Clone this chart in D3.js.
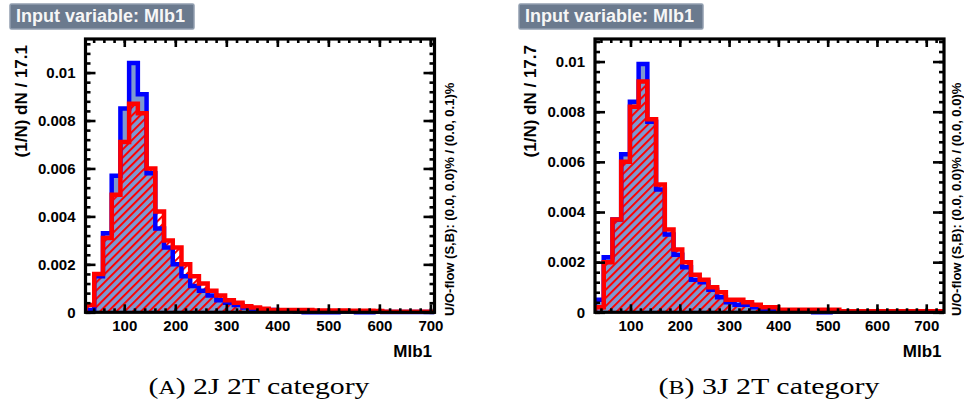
<!DOCTYPE html>
<html>
<head>
<meta charset="utf-8">
<script src="https://cdn.jsdelivr.net/npm/d3@7"></script>
<style>
  html, body { margin: 0; padding: 0; background: #ffffff; }
  svg { display: block; }
</style>
</head>
<body>
<svg id="chart" width="964" height="405"></svg>
<script>
// ---------------- data ----------------
const panelTitles = ["Input variable: Mlb1", "Input variable: Mlb1"];
const captionLetters = ["A", "B"];
const captionTexts = [" 2J 2T category", " 3J 2T category"];
const yTitles = ["(1/N) dN / 17.1", "(1/N) dN / 17.7"];
const flowTexts = ["U/O-flow (S,B): (0.0, 0.0)% / (0.0, 0.1)%",
                   "U/O-flow (S,B): (0.0, 0.0)% / (0.0, 0.0)%"];
const xTitle = "Mlb1";
const binWidths = [17.1, 17.7];
const xStarts = [24, 28];
const yMaxes = [0.0114, 0.0109];
const xTickValues = [100, 200, 300, 400, 500, 600, 700];
const xTickLabels = ["100", "200", "300", "400", "500", "600", "700"];
const yTickValues = [0, 0.002, 0.004, 0.006, 0.008, 0.01];
const yTickLabels = ["0", "0.002", "0.004", "0.006", "0.008", "0.01"];

// 2J 2T category (signal = blue filled, background = red hatched)
const signal2J = [0.0001, 0.0015, 0.0033, 0.0057, 0.0085, 0.0104, 0.0091, 0.0058, 0.0035, 0.0027,
                  0.0020, 0.0015, 0.0011, 0.0009, 0.0007, 0.0005, 0.0004, 0.0003, 0.0002, 0.00015,
                  0.0001, 0.0001, 0.00005, 0.00005, 0.00003, 0, 0, 0, 0, 0.00003,
                  0.00003, 0, 0, 0.00002, 0.00001, 0.00001, 0.00001, 0.00001, 0.00001, 0.00001];
const background2J = [0.0003, 0.0016, 0.0031, 0.0049, 0.0071, 0.0087, 0.0083, 0.0060, 0.0042, 0.0030,
                      0.0027, 0.0020, 0.0015, 0.0012, 0.0009, 0.0007, 0.0005, 0.0004, 0.00025, 0.0002,
                      0.00015, 0.0001, 0.0001, 0.0001, 0.0001, 0.0001, 0.00008, 0.00008, 0.00008, 0.00008,
                      0.00006, 0.00006, 0.00006, 0.00005, 0.00002, 0.00002, 0.00002, 0.00002, 0.00002, 0.00002];
// 3J 2T category
const signal3J = [0.0005, 0.0022, 0.0037, 0.0063, 0.0084, 0.0099, 0.0076, 0.0049, 0.0031, 0.0023,
                  0.0018, 0.0013, 0.0012, 0.0009, 0.0006, 0.0004, 0.0003, 0.0003, 0.0002, 0.0001,
                  0.0001, 0.00005, 0.00005, 0.00005, 0.00005, 0, 0, 0.00002, 0.00002, 0.00002,
                  0.00002, 0.00002, 0.00002, 0.00002, 0.00002, 0.00002, 0.00002, 0.00002, 0.00002, 0.00002];
const background3J = [0.0002, 0.0020, 0.0037, 0.0060, 0.0082, 0.0092, 0.0077, 0.0051, 0.0033, 0.0025,
                      0.0020, 0.0015, 0.0013, 0.0010, 0.0008, 0.0005, 0.0005, 0.0004, 0.0003, 0.0002,
                      0.0002, 0.0001, 0.0001, 0.0001, 0.0001, 0.0001, 0.0001, 0.0001, 0.00004, 0.00004,
                      0.00004, 0.00004, 0.00004, 0.00004, 0.00004, 0.00004, 0.00004, 0.00004, 0.00004, 0.00004];
const signals = [signal2J, signal3J];
const backgrounds = [background2J, background3J];

// ---------------- layout ----------------
const frames = [
  { x0: 85.5, x1: 434.5, y0: 39, y1: 312.3, ox: 0, flowDx: 19, capX: 259 },
  { x0: 595, x1: 944, y0: 39, y1: 312.3, ox: 509, flowDx: 16.5, capX: 769 }
];
const SANS = "'Liberation Sans', Arial, Helvetica, sans-serif";
const SERIF = "'Liberation Serif', 'Times New Roman', serif";

const svg = d3.select("#chart");
const defs = svg.append("defs");
const pat = defs.append("pattern")
  .attr("id", "hatch")
  .attr("patternUnits", "userSpaceOnUse")
  .attr("width", 5.8).attr("height", 10)
  .attr("patternTransform", "rotate(45)");
pat.append("rect").attr("x", 0).attr("y", 0).attr("width", 2).attr("height", 10).attr("fill", "#ff0000");

function stepPath(vals, x, y, x0, bw) {
  let p = `M${x(x0)},${y(0)}`;
  vals.forEach((v, i) => {
    const xl = x(x0 + i * bw), xr = x(x0 + (i + 1) * bw);
    p += `L${xl},${y(v)}L${xr},${y(v)}`;
  });
  p += `L${x(x0 + vals.length * bw)},${y(0)}`;
  return p;
}

frames.forEach((f, k) => {
  const g = svg.append("g");
  const bw = binWidths[k], xs = xStarts[k];
  const n = signals[k].length;
  const x = d3.scaleLinear().domain([xs, xs + n * bw]).range([f.x0, f.x1]);
  const y = d3.scaleLinear().domain([0, yMaxes[k]]).range([f.y1, f.y0]);

  // title box
  g.append("rect")
    .attr("x", 10 + f.ox).attr("y", 4).attr("width", 184).attr("height", 25)
    .attr("rx", 1.5)
    .attr("fill", "#6b7a8e").attr("stroke", "#929fb0").attr("stroke-width", 1.5);
  g.append("text")
    .attr("x", 16 + f.ox).attr("y", 22)
    .attr("font-family", SANS).attr("font-weight", "bold").attr("font-size", 18)
    .attr("fill", "#f6f6f6")
    .text(panelTitles[k]);

  // clip
  const cid = "clip" + k;
  defs.append("clipPath").attr("id", cid)
    .append("rect").attr("x", f.x0).attr("y", f.y0).attr("width", f.x1 - f.x0).attr("height", f.y1 - f.y0 + 3);
  const hg = g.append("g").attr("clip-path", `url(#${cid})`);

  const sPath = stepPath(signals[k], x, y, xs, bw);
  const bPath = stepPath(backgrounds[k], x, y, xs, bw);
  hg.append("path").attr("d", sPath).attr("fill", "#7d99d1").attr("stroke", "none");
  hg.append("path").attr("d", bPath).attr("fill", "url(#hatch)").attr("stroke", "none");
  hg.append("path").attr("d", sPath).attr("fill", "none").attr("stroke", "#0000ff")
    .attr("stroke-width", 4.5).attr("stroke-linejoin", "miter");
  hg.append("path").attr("d", bPath).attr("fill", "none").attr("stroke", "#ff0000")
    .attr("stroke-width", 4.5).attr("stroke-linejoin", "miter");

  // minor ticks
  const xMinor = d3.range(Math.ceil(xs / 20) * 20, xs + n * bw + 0.001, 20);
  const yMinor = d3.range(0, yMaxes[k] + 1e-9, 0.0004);
  const styleAxis = sel => {
    sel.select(".domain").remove();
    sel.selectAll(".tick line").attr("stroke", "#000").attr("stroke-width", 2.6);
  };
  g.append("g").attr("transform", `translate(0,${f.y1})`)
    .call(d3.axisBottom(x).tickValues(xMinor).tickSize(-4).tickFormat(""))
    .call(styleAxis);
  g.append("g").attr("transform", `translate(0,${f.y0})`)
    .call(d3.axisTop(x).tickValues(xMinor).tickSize(-4).tickFormat(""))
    .call(styleAxis);
  g.append("g").attr("transform", `translate(${f.x0},0)`)
    .call(d3.axisLeft(y).tickValues(yMinor).tickSize(-5).tickFormat(""))
    .call(styleAxis);
  g.append("g").attr("transform", `translate(${f.x1},0)`)
    .call(d3.axisRight(y).tickValues(yMinor).tickSize(-5).tickFormat(""))
    .call(styleAxis);

  // major ticks
  const xb = g.append("g").attr("transform", `translate(0,${f.y1})`)
    .call(d3.axisBottom(x).tickValues(xTickValues).tickSize(-8).tickPadding(8)
      .tickFormat((d, i) => xTickLabels[i]))
    .call(styleAxis);
  g.append("g").attr("transform", `translate(0,${f.y0})`)
    .call(d3.axisTop(x).tickValues(xTickValues).tickSize(-8).tickFormat(""))
    .call(styleAxis);
  const yl = g.append("g").attr("transform", `translate(${f.x0},0)`)
    .call(d3.axisLeft(y).tickValues(yTickValues).tickSize(-10).tickPadding(10)
      .tickFormat((d, i) => yTickLabels[i]))
    .call(styleAxis);
  g.append("g").attr("transform", `translate(${f.x1},0)`)
    .call(d3.axisRight(y).tickValues(yTickValues).tickSize(-11).tickFormat(""))
    .call(styleAxis);
  [xb, yl].forEach(a => a.selectAll(".tick text")
    .attr("font-family", SANS).attr("font-weight", "bold").attr("font-size", 15).attr("fill", "#000"));

  // frame
  g.append("rect")
    .attr("x", f.x0).attr("y", f.y0).attr("width", f.x1 - f.x0).attr("height", f.y1 - f.y0)
    .attr("fill", "none").attr("stroke", "#000").attr("stroke-width", 3.2);

  // axis titles
  g.append("text")
    .attr("x", f.x1 - 2.5).attr("y", 357)
    .attr("text-anchor", "end")
    .attr("font-family", SANS).attr("font-weight", "bold").attr("font-size", 17)
    .text(xTitle);
  g.append("text")
    .attr("transform", `translate(${26.5 + f.ox},45) rotate(-90)`)
    .attr("text-anchor", "end")
    .attr("font-family", SANS).attr("font-weight", "bold").attr("font-size", 17)
    .text(yTitles[k]);
  g.append("text")
    .attr("transform", `translate(${f.x1 + f.flowDx},316) rotate(-90)`)
    .attr("text-anchor", "start")
    .attr("font-family", SANS).attr("font-weight", "bold").attr("font-size", 13)
    .text(flowTexts[k]);

  // caption
  const cap = g.append("text")
    .attr("x", f.capX).attr("y", 393.5)
    .attr("text-anchor", "middle")
    .attr("font-family", SERIF).attr("font-size", 22.5).attr("fill", "#000")
    .attr("textLength", 221).attr("lengthAdjust", "spacingAndGlyphs");
  cap.append("tspan").text("(");
  cap.append("tspan").attr("font-size", 18).text(captionLetters[k]);
  cap.append("tspan").text(")" + captionTexts[k]);
});
</script>
</body>
</html>
